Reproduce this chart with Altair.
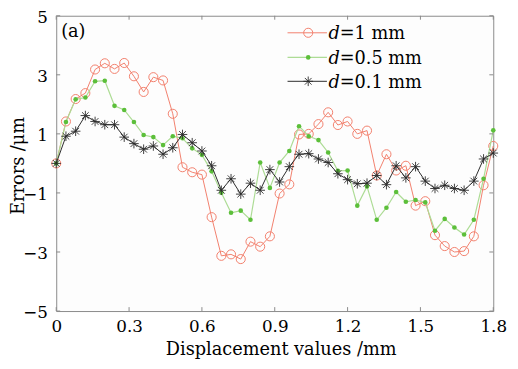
import altair as alt
import pandas as pd

# ---------------- data ----------------
x_mm = [0.00, 0.04, 0.08, 0.12, 0.16, 0.20, 0.24, 0.28, 0.32, 0.36,
        0.40, 0.44, 0.48, 0.52, 0.56, 0.60, 0.64, 0.68, 0.72, 0.76,
        0.80, 0.84, 0.88, 0.92, 0.96, 1.00, 1.04, 1.08, 1.12, 1.16,
        1.20, 1.24, 1.28, 1.32, 1.36, 1.40, 1.44, 1.48, 1.52, 1.56,
        1.60, 1.64, 1.68, 1.72, 1.76, 1.80]

err_d1 = [0, 1.42, 2.18, 2.38, 3.18, 3.39, 3.2, 3.4, 2.95, 2.42,
          2.92, 2.81, 1.68, -0.13, -0.3, -0.38, -1.82, -3.13, -3.08, -3.24,
          -2.65, -2.82, -2.47, -1.02, -0.71, 0.98, 1.0, 1.33, 1.73, 1.3,
          1.42, 1.0, 1.11, -0.41, 0.31, -0.24, -0.08, -1.43, -1.28, -2.43,
          -2.8, -3.0, -2.97, -2.47, -0.74, 0.59]

err_d05 = [0, 1.4, 2.17, 2.23, 2.78, 2.8, 1.95, 1.81, 1.4, 0.96,
           0.89, 0.62, 0.92, 0.85, 0.51, 0.29, -0.27, -0.99, -1.67, -1.6,
           -1.91, 0.03, -0.83, 0.03, 0.42, 1.26, 0.92, 0.79, 0.37, -0.25,
           -0.24, -1.43, -0.78, -1.91, -1.5, -0.97, -1.3, -1.24, -1.32, -2.28,
           -1.88, -2.17, -2.41, -1.91, -0.52, 1.12]

err_d01 = [0, 0.92, 1.09, 1.62, 1.42, 1.31, 1.31, 0.89, 0.67, 0.48,
           0.59, 0.31, 0.53, 0.98, 0.7, 0.42, -0.08, -0.91, -0.52, -1.04,
           -0.67, -0.91, -0.21, -0.63, -0.11, 0.31, 0.33, 0.15, 0.03, -0.35,
           -0.55, -0.69, -0.67, -0.41, -0.72, -0.08, -0.49, -0.11, -0.6, -0.85,
           -0.74, -0.85, -0.91, -0.6, 0.15, 0.35]

legend_italic = ["d", "d", "d"]
legend_rest = ["=1 mm", "=0.5 mm", "=0.1 mm"]
x_ticks = [0, 0.3, 0.6, 0.9, 1.2, 1.5, 1.8]
y_ticks = [-5, -3, -1, 1, 3, 5]
panel_label = "(a)"
x_title = "Displacement values /mm"
y_title = "Errors /\u03bcm"

# ---------------- styling ----------------
FONT = "DejaVu Serif"
W, H = 444, 300
RED = "#f2806c"
GREEN_PT = "#5cbf3a"
GREEN_LN = "#addc95"
BLACK = "#2a2a2a"
FRAME = "#8a8a8a"
STAR = "M-1,0L1,0M0,-1L0,1M-0.7,-0.7L0.7,0.7M-0.7,0.7L0.7,-0.7"

xs = alt.Scale(domain=[0, 1.8], nice=False, zero=False)
ys = alt.Scale(domain=[-5, 5], nice=False)

x_axis = alt.Axis(values=x_ticks, ticks=False, grid=False, domain=False,
                  labelExpr="datum.value == 0 ? '0' : format(datum.value, '.1f')",
                  labelFont=FONT, labelFontSize=17, labelColor="black",
                  labelPadding=8, labelFlush=False,
                  title=x_title, titleFont=FONT, titleFontSize=18,
                  titleFontWeight="normal", titleColor="black",
                  titleX=228, titleY=44, titleBaseline="alphabetic")
y_axis = alt.Axis(values=y_ticks, ticks=False, grid=False, domain=False,
                  labelFont=FONT, labelFontSize=17, labelColor="black",
                  labelPadding=9, labelFlush=False, labelOffset=1.5,
                  title=y_title, titleFont=FONT, titleFontSize=18,
                  titleFontWeight="normal", titleColor="black",
                  titleX=-38, titleY=152, titleBaseline="middle", titleAngle=-90)


def X(field):
    return alt.X(field, scale=xs, axis=x_axis)


def Y(field):
    return alt.Y(field, scale=ys, axis=y_axis)


def df_of(vals):
    return pd.DataFrame({"x": x_mm, "y": vals})


def series_layers(vals, line_color, line_width, point_mark):
    base = alt.Chart(df_of(vals))
    line = base.mark_line(color=line_color, strokeWidth=line_width).encode(x=X("x:Q"), y=Y("y:Q"))
    pts = base.mark_point(**point_mark).encode(x=X("x:Q"), y=Y("y:Q"))
    return [line, pts]


red_pm = dict(shape="circle", size=85, filled=False, color=RED, strokeWidth=1, opacity=1)
green_pm = dict(shape="circle", size=22, filled=True, color=GREEN_PT, opacity=1)
black_pm = dict(shape=STAR, size=95, filled=False, color=BLACK, strokeWidth=0.9, opacity=1)

layers = []
layers += series_layers(err_d1, RED, 1, red_pm)
layers += series_layers(err_d05, GREEN_LN, 1.2, green_pm)
layers += series_layers(err_d01, BLACK, 1, black_pm)

# inward ticks on all four sides
xt = alt.Chart(pd.DataFrame({"x": x_ticks}))
yt = alt.Chart(pd.DataFrame({"y": y_ticks}))
layers.append(xt.mark_rule(color=FRAME, strokeWidth=1).encode(x=X("x:Q"), y=alt.value(0), y2=alt.value(4)))
layers.append(xt.mark_rule(color=FRAME, strokeWidth=1).encode(x=X("x:Q"), y=alt.value(H - 4), y2=alt.value(H)))
layers.append(yt.mark_rule(color=FRAME, strokeWidth=1).encode(y=Y("y:Q"), x=alt.value(0), x2=alt.value(4)))
layers.append(yt.mark_rule(color=FRAME, strokeWidth=1).encode(y=Y("y:Q"), x=alt.value(W - 4), x2=alt.value(W)))

# panel label
layers.append(alt.Chart(pd.DataFrame({"t": [panel_label]})).mark_text(
    font=FONT, fontSize=18, align="left", baseline="alphabetic", color="black"
).encode(text="t:N", x=alt.value(5), y=alt.value(21.5)))

# manual legend
leg_y = [17.3, 42.3, 66.6]
leg_styles = [(RED, 1, red_pm), (GREEN_LN, 1.2, green_pm), (BLACK, 1, black_pm)]
for i, (lc, lw, pm) in enumerate(leg_styles):
    one = alt.Chart(pd.DataFrame({"a": [legend_italic[i]], "b": [legend_rest[i]]}))
    layers.append(one.mark_rule(color=lc, strokeWidth=lw).encode(
        x=alt.value(235), x2=alt.value(275), y=alt.value(leg_y[i])))
    layers.append(one.mark_point(**pm).encode(x=alt.value(256), y=alt.value(leg_y[i])))
    layers.append(one.mark_text(font=FONT, fontSize=18, fontStyle="italic", align="left",
                                baseline="alphabetic", color="black").encode(
        text="a:N", x=alt.value(276.5), y=alt.value(leg_y[i] + 6.3)))
    layers.append(one.mark_text(font=FONT, fontSize=18, align="left",
                                baseline="alphabetic", color="black").encode(
        text="b:N", x=alt.value(288), y=alt.value(leg_y[i] + 6.3)))

chart = alt.layer(*layers).properties(
    width=W, height=H,
    autosize=alt.AutoSizeParams(type="none"),
    padding={"left": 49, "top": 5, "right": 17, "bottom": 56},
    background="white",
).configure_view(stroke=FRAME, strokeWidth=1, fill="#fdfdfd")

chart.save("out.html", embed_options={"renderer": "svg", "actions": False})
